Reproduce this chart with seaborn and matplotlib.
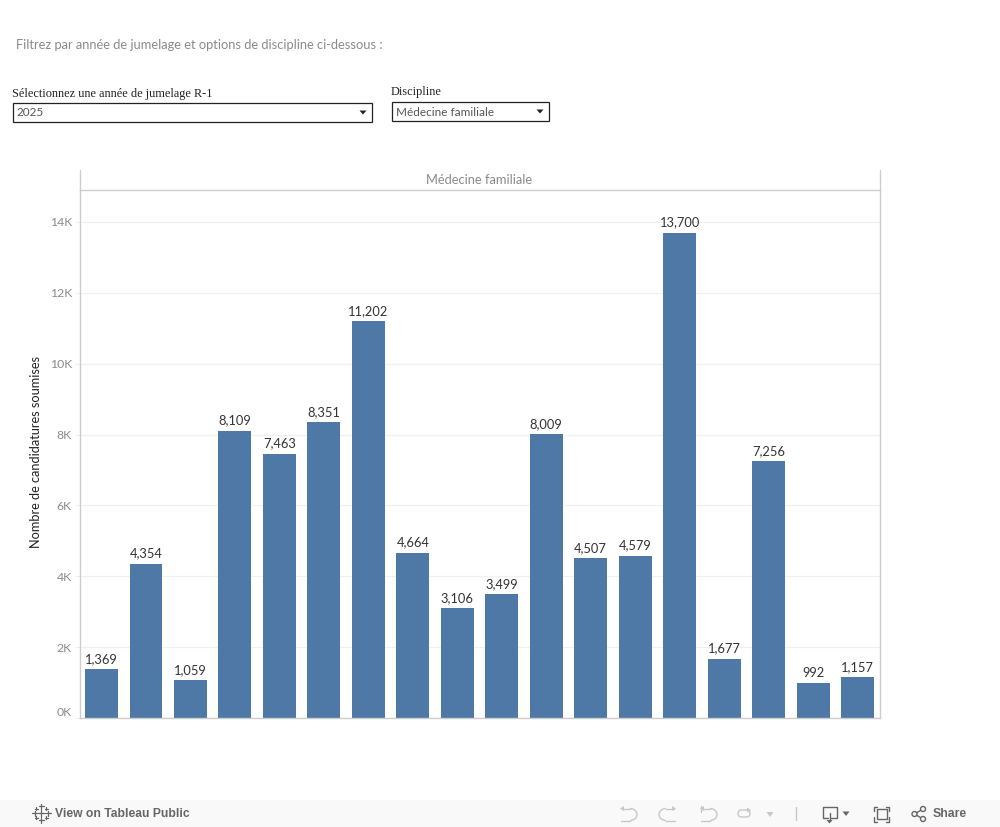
import numpy as np
import pandas as pd
import seaborn as sns
import matplotlib.pyplot as plt
from matplotlib.patches import Rectangle, Polygon, Circle, Arc, FancyBboxPatch

# données
candidatures = [1369, 4354, 1059, 8109, 7463, 8351, 11202, 4664, 3106,
                3499, 8009, 4507, 4579, 13700, 1677, 7256, 992, 1157]
categories = [f'U{i + 1}' for i in range(len(candidatures))]
y_ticks = [0, 2000, 4000, 6000, 8000, 10000, 12000, 14000]
y_labels = ['0K', '2K', '4K', '6K', '8K', '10K', '12K', '14K']
panel_title = 'Médecine familiale'
y_title = 'Nombre de candidatures soumises'

BLUE = '#4e79a7'
GREY = '#8a8a8a'
LINE = '#cccccc'
W, H = 1000, 827

sns.set_theme(style='white')
plt.rcParams['font.family'] = ['Lato', 'DejaVu Sans']

fig = plt.figure(figsize=(10, 8.27), dpi=100)

# graphique principal
ax = fig.add_axes([79.5 / W, 1 - 718 / H, 800.5 / W, 528 / H])
df = pd.DataFrame({'cat': categories, 'val': candidatures})
sns.barplot(data=df, x='cat', y='val', color=BLUE, saturation=1, width=0.74, linewidth=0, ax=ax, zorder=2)
ax.set_ylim(0, 14903)
ax.set_xlim(-0.495, len(categories) - 0.495)
ax.set_xlabel('')
ax.set_ylabel('')
ax.set_xticks([])
ax.set_yticks(y_ticks)
ax.set_yticklabels(y_labels, fontsize=8.8, color=GREY)
ax.get_yticklabels()[0].set_va('bottom')  # le 0K est décalé vers le haut
ax.tick_params(axis='y', length=3.5, width=0.8, color='#eeeeee', pad=2, left=True)
ax.grid(axis='y', color='#f0f0f0', linewidth=0.9, zorder=0)
ax.set_axisbelow(True)
for s in ax.spines.values():
    s.set_color(LINE)
    s.set_linewidth(1)
for i, v in enumerate(candidatures):
    ax.annotate(f'{v:,}', (i, v), xytext=(0, 3), textcoords='offset points',
                ha='center', va='bottom', fontsize=9.3, color='#333333')

# calque en pixels pour l'en-tête et la barre d'outils
ov = fig.add_axes([0, 0, 1, 1], zorder=5)
ov.set_xlim(0, W)
ov.set_ylim(H, 0)
ov.axis('off')
ov.patch.set_alpha(0)

ov.text(36.5, 452, y_title, fontsize=9.2, color='#222222', rotation=90, ha='center', va='center')

# en-tête du panneau
ov.plot([79.5, 79.5], [170, 190], color=LINE, lw=1)
ov.plot([880, 880], [170, 190], color=LINE, lw=1)
ov.text(479.5, 180.5, panel_title, fontsize=9.3, color=GREY, ha='center', va='center')
ov.text(16, 45, 'Filtrez par année de jumelage et options de discipline ci-dessous :',
        fontsize=9.3, color=GREY, va='center')

# filtres
serif = ['Liberation Serif', 'DejaVu Serif']
ov.text(12, 93.5, 'Sélectionnez une année de jumelage R-1', fontsize=8.8, family=serif,
        color='#222222', va='center')
ov.text(391, 92.5, 'Discipline', fontsize=8.8, family=serif, color='#222222', va='center')
for x0, x1, y0, y1, label in [(13, 372, 103, 122, '2025'),
                              (392, 549, 102, 121, panel_title)]:
    ov.add_patch(Rectangle((x0, y0), x1 - x0, y1 - y0, fc='white', ec='#222222', lw=0.9))
    ov.text(x0 + 3.5, (y0 + y1) / 2 + 0.5, label, fontsize=8.5, color='#555555', va='center')
    tx = x1 - 9
    ty = (y0 + y1) / 2
    ov.add_patch(Polygon([(tx - 3.5, ty - 2), (tx + 3.5, ty - 2), (tx, ty + 2)], fc='#222222', ec='none'))

# barre d'outils
ov.add_patch(Rectangle((0, 800), W, 27, fc='#f9f9f9', ec='none'))
sans = ['Liberation Sans', 'DejaVu Sans']
ov.text(55, 814, 'View on Tableau Public', fontsize=8.7, family=sans, weight='bold',
        color='#666666', va='center')
ov.text(933, 814, 'Share', fontsize=8.8, family=sans, weight='bold', color='#666666', va='center')

# logo
for cx, cy, r in [(41, 813, 3.5), (41, 806, 2.5), (41, 820, 2.5), (34.5, 813, 2.5), (48, 813, 2.5),
                  (36, 808.5, 1.5), (46, 808.5, 1.5), (36, 817.5, 1.5), (46, 817.5, 1.5)]:
    ov.plot([cx - r, cx + r], [cy, cy], color='#666666', lw=0.9)
    ov.plot([cx, cx], [cy - r, cy + r], color='#666666', lw=0.9)

# flèches annuler / rétablir
light = '#c8c8c8'
for x0, flip in [(630, 1), (666, -1), (710, 1)]:
    ov.add_patch(Arc((x0, 814.5), 14, 12, theta1=-90 if flip > 0 else 90, theta2=90 if flip > 0 else 270,
                     color=light, lw=1))
    ov.plot([x0 - 8 * flip, x0], [808.5, 808.5], color=light, lw=1)
    ov.plot([x0 - 9 * flip, x0], [820.5, 820.5], color=light, lw=1)
    ov.add_patch(Polygon([(x0 - 10 * flip, 808.5), (x0 - 6 * flip, 806), (x0 - 6 * flip, 811)], fc=light, ec='none'))
ov.plot([700.5, 700.5], [806, 812], color=light, lw=1)
ov.add_patch(FancyBboxPatch((738, 810), 12, 7, boxstyle='round,pad=0,rounding_size=3.5',
                            fc='none', ec=light, lw=1))
ov.add_patch(Polygon([(751, 810), (747, 807.5), (747, 812.5)], fc=light, ec='none'))
ov.add_patch(Polygon([(766.5, 812), (773.5, 812), (770, 817)], fc=light, ec='none'))
ov.plot([795.5, 795.5], [807, 820], color=light, lw=1)

# téléchargement, plein écran, partage
dark = '#666666'
ov.plot([828, 822.5, 822.5, 836.5, 836.5, 831], [818, 818, 807, 807, 818, 818], color=dark, lw=1)
ov.plot([829.5, 829.5], [813, 821], color=dark, lw=1)
ov.add_patch(Polygon([(826.5, 820), (832.5, 820), (829.5, 823.5)], fc=dark, ec='none'))
ov.add_patch(Polygon([(842.5, 811.5), (849.5, 811.5), (846, 816)], fc=dark, ec='none'))
ov.add_patch(Rectangle((876.5, 809), 10, 10, fc='none', ec=dark, lw=1))
for x, dx in [(873.5, 1), (889, -1)]:
    ov.plot([x + 3 * dx, x, x], [806.5, 806.5, 811], color=dark, lw=1)
    ov.plot([x + 3 * dx, x, x], [821.5, 821.5, 817], color=dark, lw=1)
pts = [(914.5, 814), (923, 809), (923, 819)]
ov.plot([pts[1][0], pts[0][0], pts[2][0]], [pts[1][1], pts[0][1], pts[2][1]], color=dark, lw=1)
for p in pts:
    ov.add_patch(Circle(p, 2.5, fc='#f9f9f9', ec=dark, lw=1, zorder=3))

fig.savefig('out.png', dpi=100)
